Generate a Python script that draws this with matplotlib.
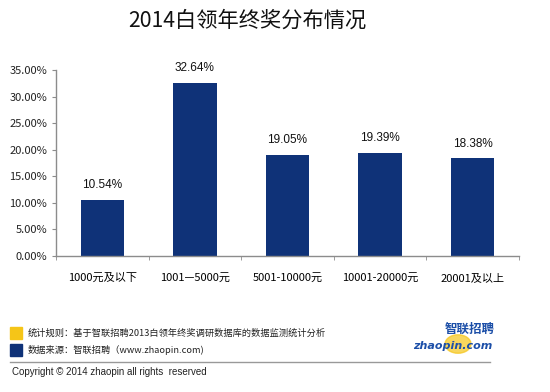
import matplotlib
matplotlib.use("Agg")
import matplotlib.pyplot as plt
import numpy as np
from matplotlib.patches import Rectangle, Circle
from matplotlib.ticker import FuncFormatter, MultipleLocator

plt.rcParams["font.family"] = ["Noto Sans CJK SC", "DejaVu Sans"]

# data
categories = ["1000元及以下", "1001—5000元", "5001-10000元", "10001-20000元", "20001及以上"]
shares = [10.54, 32.64, 19.05, 19.39, 18.38]

title = "2014白领年终奖分布情况"
note_rule = "统计规则：基于智联招聘2013白领年终奖调研数据库的数据监测统计分析"
note_source = "数据来源：智联招聘（www.zhaopin.com)"
copyright_text = "Copyright © 2014 zhaopin all rights  reserved"

navy = "#0f3278"
gold = "#f5c518"
grey = "#8c8c8c"

fig = plt.figure(figsize=(5.5, 3.92), dpi=100)
ax = fig.add_axes([0.1018, 0.347, 0.8418, 0.4744])

x = np.arange(len(categories))
ax.bar(x, shares, width=0.47, color=navy)
for xi, v in zip(x, shares):
    ax.text(xi, v + 1.6, f"{v:.2f}%", ha="center", va="bottom", fontsize=8.5,
            family=["Liberation Sans", "DejaVu Sans"], color="#111111")

ax.set_xlim(-0.5, len(categories) - 0.5)
ax.set_ylim(0, 35)
ax.yaxis.set_major_locator(MultipleLocator(5))
ax.yaxis.set_major_formatter(FuncFormatter(lambda v, _: f"{v:.2f}%"))
ax.set_xticks(x)
ax.set_xticklabels(categories)
ax.set_xticks(np.arange(len(categories) + 1) - 0.5, minor=True)
ax.tick_params(axis="x", which="major", length=0, pad=12, labelsize=8)
ax.tick_params(axis="x", which="minor", length=3, color=grey)
ax.tick_params(axis="y", length=3, color=grey, labelsize=8, labelcolor="#222222")

for s in ("top", "right"):
    ax.spines[s].set_visible(False)
for s in ("left", "bottom"):
    ax.spines[s].set_color(grey)
    ax.spines[s].set_linewidth(1.0)

fig.text(0.449, 0.948, title, ha="center", va="center", fontsize=15.3, color="#111111")

# footer legend
fig.add_artist(Rectangle((10 / 550, 1 - 339 / 392), 12 / 550, 12 / 392,
                         transform=fig.transFigure, color=gold))
fig.add_artist(Rectangle((10 / 550, 1 - 356 / 392), 12 / 550, 12 / 392,
                         transform=fig.transFigure, color=navy))
fig.text(28 / 550, 1 - 333 / 392, note_rule, fontsize=6.65, va="center", color="#222222")
fig.text(28 / 550, 1 - 350 / 392, note_source, fontsize=6.65, va="center", color="#222222")
fig.add_artist(plt.Line2D([10 / 550, 490 / 550], [1 - 362 / 392, 1 - 362 / 392],
                          transform=fig.transFigure, color="#999999", lw=1))
fig.text(12 / 550, 1 - 372 / 392, copyright_text, fontsize=7, va="center",
         family=["Liberation Sans", "DejaVu Sans"], color="#222222")

# logo
fig.add_artist(Circle((458 / 550, 1 - 344 / 392), 13 / 550, transform=fig.transFigure,
                      color=gold, alpha=0.7))
fig.text(470 / 550, 1 - 329 / 392, "智联招聘", fontsize=9, fontweight="bold",
         ha="center", va="center", color="#1c4fa8")
fig.text(453 / 550, 1 - 346 / 392, "zhaopin.com", fontsize=8, fontweight="bold",
         style="italic", ha="center", va="center", color="#1c4fa8",
         family=["DejaVu Sans"])

fig.savefig("out.png", dpi=100)
